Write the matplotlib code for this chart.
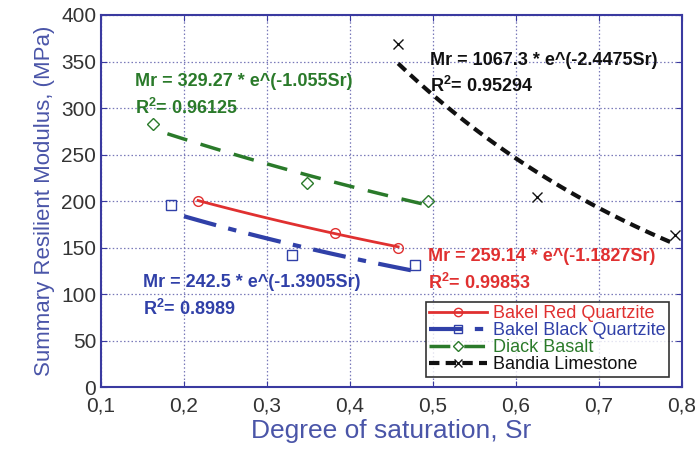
import numpy as np
import matplotlib
matplotlib.use("Agg")
import matplotlib.pyplot as plt
from matplotlib.lines import Line2D

plt.rcParams['font.family'] = ['Liberation Sans', 'DejaVu Sans']
plt.rcParams['mathtext.fontset'] = 'custom'
plt.rcParams['mathtext.rm'] = 'Liberation Sans'
plt.rcParams['mathtext.bf'] = 'Liberation Sans:bold'

names = ["Bakel Red Quartzite", "Bakel Black Quartzite", "Diack Basalt", "Bandia Limestone"]
colors = ["#e03030", "#3040a8", "#2a7a2a", "#111111"]

red_x = [0.217, 0.382, 0.458]
red_y = [200, 166, 150]
blue_x = [0.184, 0.330, 0.478]
blue_y = [196, 142, 131]
green_x = [0.163, 0.348, 0.494]
green_y = [283, 219, 200]
black_x = [0.458, 0.625, 0.792]
black_y = [369, 204, 163]

# fit coefficients shown on the chart: Mr = a * e^(b*Sr)
fit_a = [259.14, 242.5, 329.27, 1067.3]
fit_b = [-1.1827, -1.3905, -1.055, -2.4475]
fit_r2 = ["0.99853", "0.8989", "0.96125", "0.95294"]
fit_range = [(0.217, 0.458), (0.20, 0.475), (0.18, 0.494), (0.458, 0.79)]

xs = [red_x, blue_x, green_x, black_x]
ys = [red_y, blue_y, green_y, black_y]
markers = ["o", "s", "D", "x"]
msizes = [7, 7, 6, 7]
styles = ["-", (0, (8, 3, 2, 3)), (0, (6, 4)), (0, (2.5, 1.5))]
widths = [2.0, 3.0, 2.5, 3.0]

fig = plt.figure(figsize=(6.99, 4.49), dpi=100)
ax = fig.add_axes([0.1445, 0.138, 0.8312, 0.8286])

handles = []
for i in range(4):
    sx = np.linspace(fit_range[i][0], fit_range[i][1], 50)
    ax.plot(sx, fit_a[i] * np.exp(fit_b[i] * sx), color=colors[i],
            linestyle=styles[i], linewidth=widths[i])
    ax.plot(xs[i], ys[i], linestyle="none", marker=markers[i], ms=msizes[i],
            mfc="none", mec=colors[i], mew=1.0)
    handles.append(Line2D([], [], color=colors[i], linestyle=styles[i], linewidth=widths[i],
                          marker=markers[i], ms=msizes[i] - 1, mfc="none", mec=colors[i]))

tfont = dict(fontsize=13, fontweight="bold", va="center")
# equations, placed as in the original
pos = [(0.494, 140, 112), (0.151, 112, 84), (0.141, 328, 300), (0.496, 351, 324)]
for i in range(4):
    x0, y1, y2 = pos[i]
    ax.text(x0, y1, "Mr = %s * e^(%sSr)" % (fit_a[i], fit_b[i]), color=colors[i], **tfont)
    ax.text(x0, y2, r"R$^\mathbf{2}$= " + fit_r2[i], color=colors[i], **tfont)

ax.set_xlim(0.1, 0.8)
ax.set_ylim(0, 400)
xt = np.arange(0.1, 0.81, 0.1)
ax.set_xticks(xt)
ax.set_xticklabels([("%.1f" % v).replace(".", ",") for v in xt])
ax.set_yticks(np.arange(0, 401, 50))
ax.tick_params(labelsize=15, colors="#333333", direction="in", length=4)
ax.tick_params(axis="both", which="both", color="#3a3aa0", top=True, right=True)
ax.tick_params(axis="x", pad=7)
for s in ax.spines.values():
    s.set_color("#3a3aa0")
    s.set_linewidth(1.5)
ax.grid(True, linestyle=(0, (1.2, 1.8)), color="#7878b8", linewidth=0.9)
ax.set_axisbelow(True)

ax.set_xlabel("Degree of saturation, Sr", fontsize=19, color="#4a55a8", labelpad=2)
ax.set_ylabel("Summary Resilient Modulus, (MPa)", fontsize=16, color="#4a55a8", labelpad=4)

leg = ax.legend(handles, names, loc="lower right", fontsize=13, frameon=True,
                fancybox=False, edgecolor="black", handlelength=3.2,
                borderpad=0.2, labelspacing=0.0, handletextpad=0.3,
                bbox_to_anchor=(0.993, 0.003))
leg.get_frame().set_linewidth(1.2)
for t, c in zip(leg.get_texts(), colors):
    t.set_color(c)

fig.savefig("out.png", dpi=100)
